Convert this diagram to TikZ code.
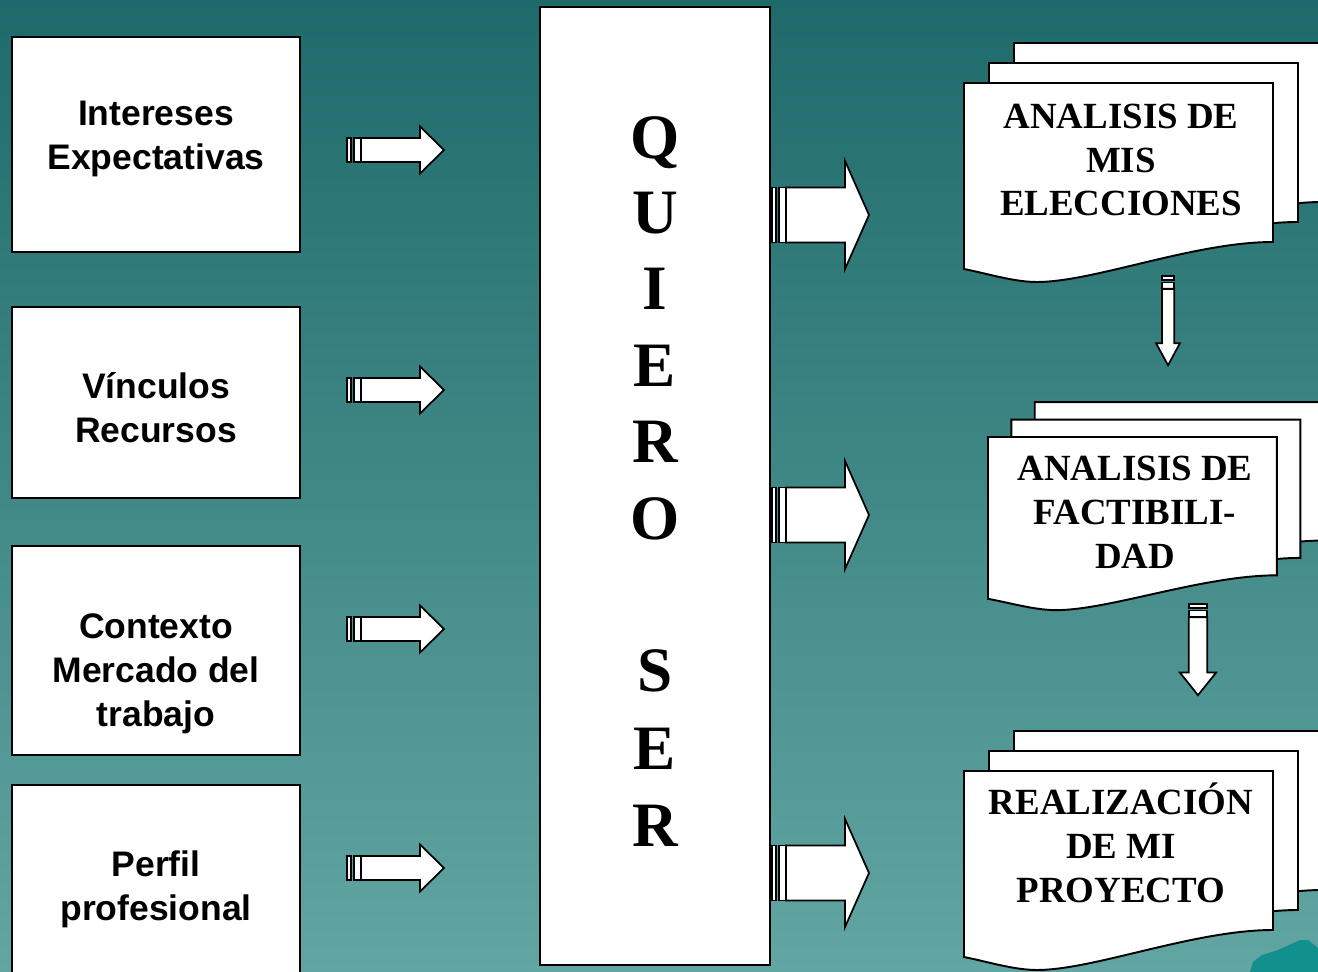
\documentclass[tikz,border=0pt]{standalone}
\usepackage{fontspec}
\setmainfont{Liberation Serif}
\newfontfamily\boxsans{Liberation Sans}
\newlength\pxu
\setlength\pxu{0.02cm}
\definecolor{bgtop}{HTML}{1E6A6A}
\definecolor{bgbot}{HTML}{62A6A3}
\definecolor{blobcol}{HTML}{11908E}
\tikzset{
  leftbox/.style={draw=black, fill=white, line width=1.2pt, minimum width=288\pxu, inner sep=0pt},
  lefttext/.style={align=center, font=\boxsans\bfseries\fontsize{20.2}{25}\selectfont, inner sep=0pt},
  doctext/.style={align=center, font=\bfseries\fontsize{21}{25}\selectfont, inner sep=0pt},
  letter/.style={font=\bfseries\fontsize{36}{40}\selectfont, inner sep=0pt, anchor=base},
  arrowline/.style={draw=black, fill=white, line width=1pt, line join=miter},
  pageline/.style={draw=black, fill=white, line width=1.1pt},
  pics/rblock/.style={code={
     \path[arrowline] (0,-12) rectangle (4,12);
     \path[arrowline] (7,-12) rectangle (14,12);
     \path[arrowline] (14,-12) -- (73,-12) -- (73,-23.5) -- (97,0) -- (73,23.5) -- (73,12) -- (14,12) -- cycle;
  }},
  pics/multidoc/.style={code={
     \foreach \sx/\sy in {50/-40, 25/-20, 0/0}{
       \path[pageline, shift={(\sx,\sy)}] (0,0) -- (309,0) -- (309,159)
         .. controls (230,159) and (130,199) .. (73,199)
         .. controls (50,199) and (25,191) .. (0,186) -- cycle;
     }
  }},
}
\begin{document}
\begin{tikzpicture}[x=0.02cm, y=-0.02cm]
\useasboundingbox (0,0) rectangle (1318,972);
\clip (0,0) rectangle (1318,972);
\shade[top color=bgtop, bottom color=bgbot] (0,0) rectangle (1318,972);
\fill[blobcol] (1250,972) -- (1253,962) -- (1262,955) -- (1278,950) -- (1300,940) -- (1308,940) -- (1318,948) -- (1318,972) -- cycle;

% left boxes
\node[leftbox, minimum height=215\pxu] (b1) at (156,144.5) {};
\node[lefttext] (t1) at (156,139) {Intereses\\Expectativas};
\node[leftbox, minimum height=191\pxu] (b2) at (156,402.5) {};
\node[lefttext] (t2) at (156,407.5) {Vínculos\\Recursos};
\node[leftbox, minimum height=209\pxu] (b3) at (156,650.5) {};
\node[lefttext] (t3) at (156,673.5) {Contexto\\Mercado del\\trabajo};
\node[leftbox, minimum height=205\pxu] (b4) at (156,887.5) {};
\node[lefttext] (t4) at (156,889.5) {Perfil\\profesional};

% small arrows
\foreach \yy in {150,390,629,868}{
  \pic at (347,\yy) {rblock};
}

% center box
\node[draw=black, fill=white, line width=1.2pt, minimum width=230\pxu, minimum height=958\pxu, inner sep=0pt] (q) at (655,486) {};
\foreach \ch/\yy [count=\i] in {Q/158.5, U/233.5, I/309.5, E/386.5, R/462.5, O/539.5, S/691.5, E/769.5, R/846.5}{
  \node[letter] (l\i) at (655,\yy) {\ch};
}

% big arrows
\foreach \yy in {215,515,873}{
  \pic[yscale=2.3] at (772,\yy) {rblock};
}

% documents
\pic at (964,83) {multidoc};
\node[doctext] (d1) at (1121,160) {ANALISIS DE\\MIS\\ELECCIONES};
\pic[xscale=0.935, yscale=0.87] at (988,437) {multidoc};
\node[doctext] (d2) at (1135,512) {ANALISIS DE\\FACTIBILI-\\DAD};
\pic at (964,771) {multidoc};
\node[doctext] (d3) at (1121,843) {REALIZACIÓN\\DE MI\\PROYECTO};

% down arrows
\pic[rotate=-90, xscale=0.92, yscale=0.51] at (1168,276) {rblock};
\pic[rotate=-90, xscale=0.94, yscale=0.77] at (1198,604) {rblock};
\end{tikzpicture}
\end{document}
